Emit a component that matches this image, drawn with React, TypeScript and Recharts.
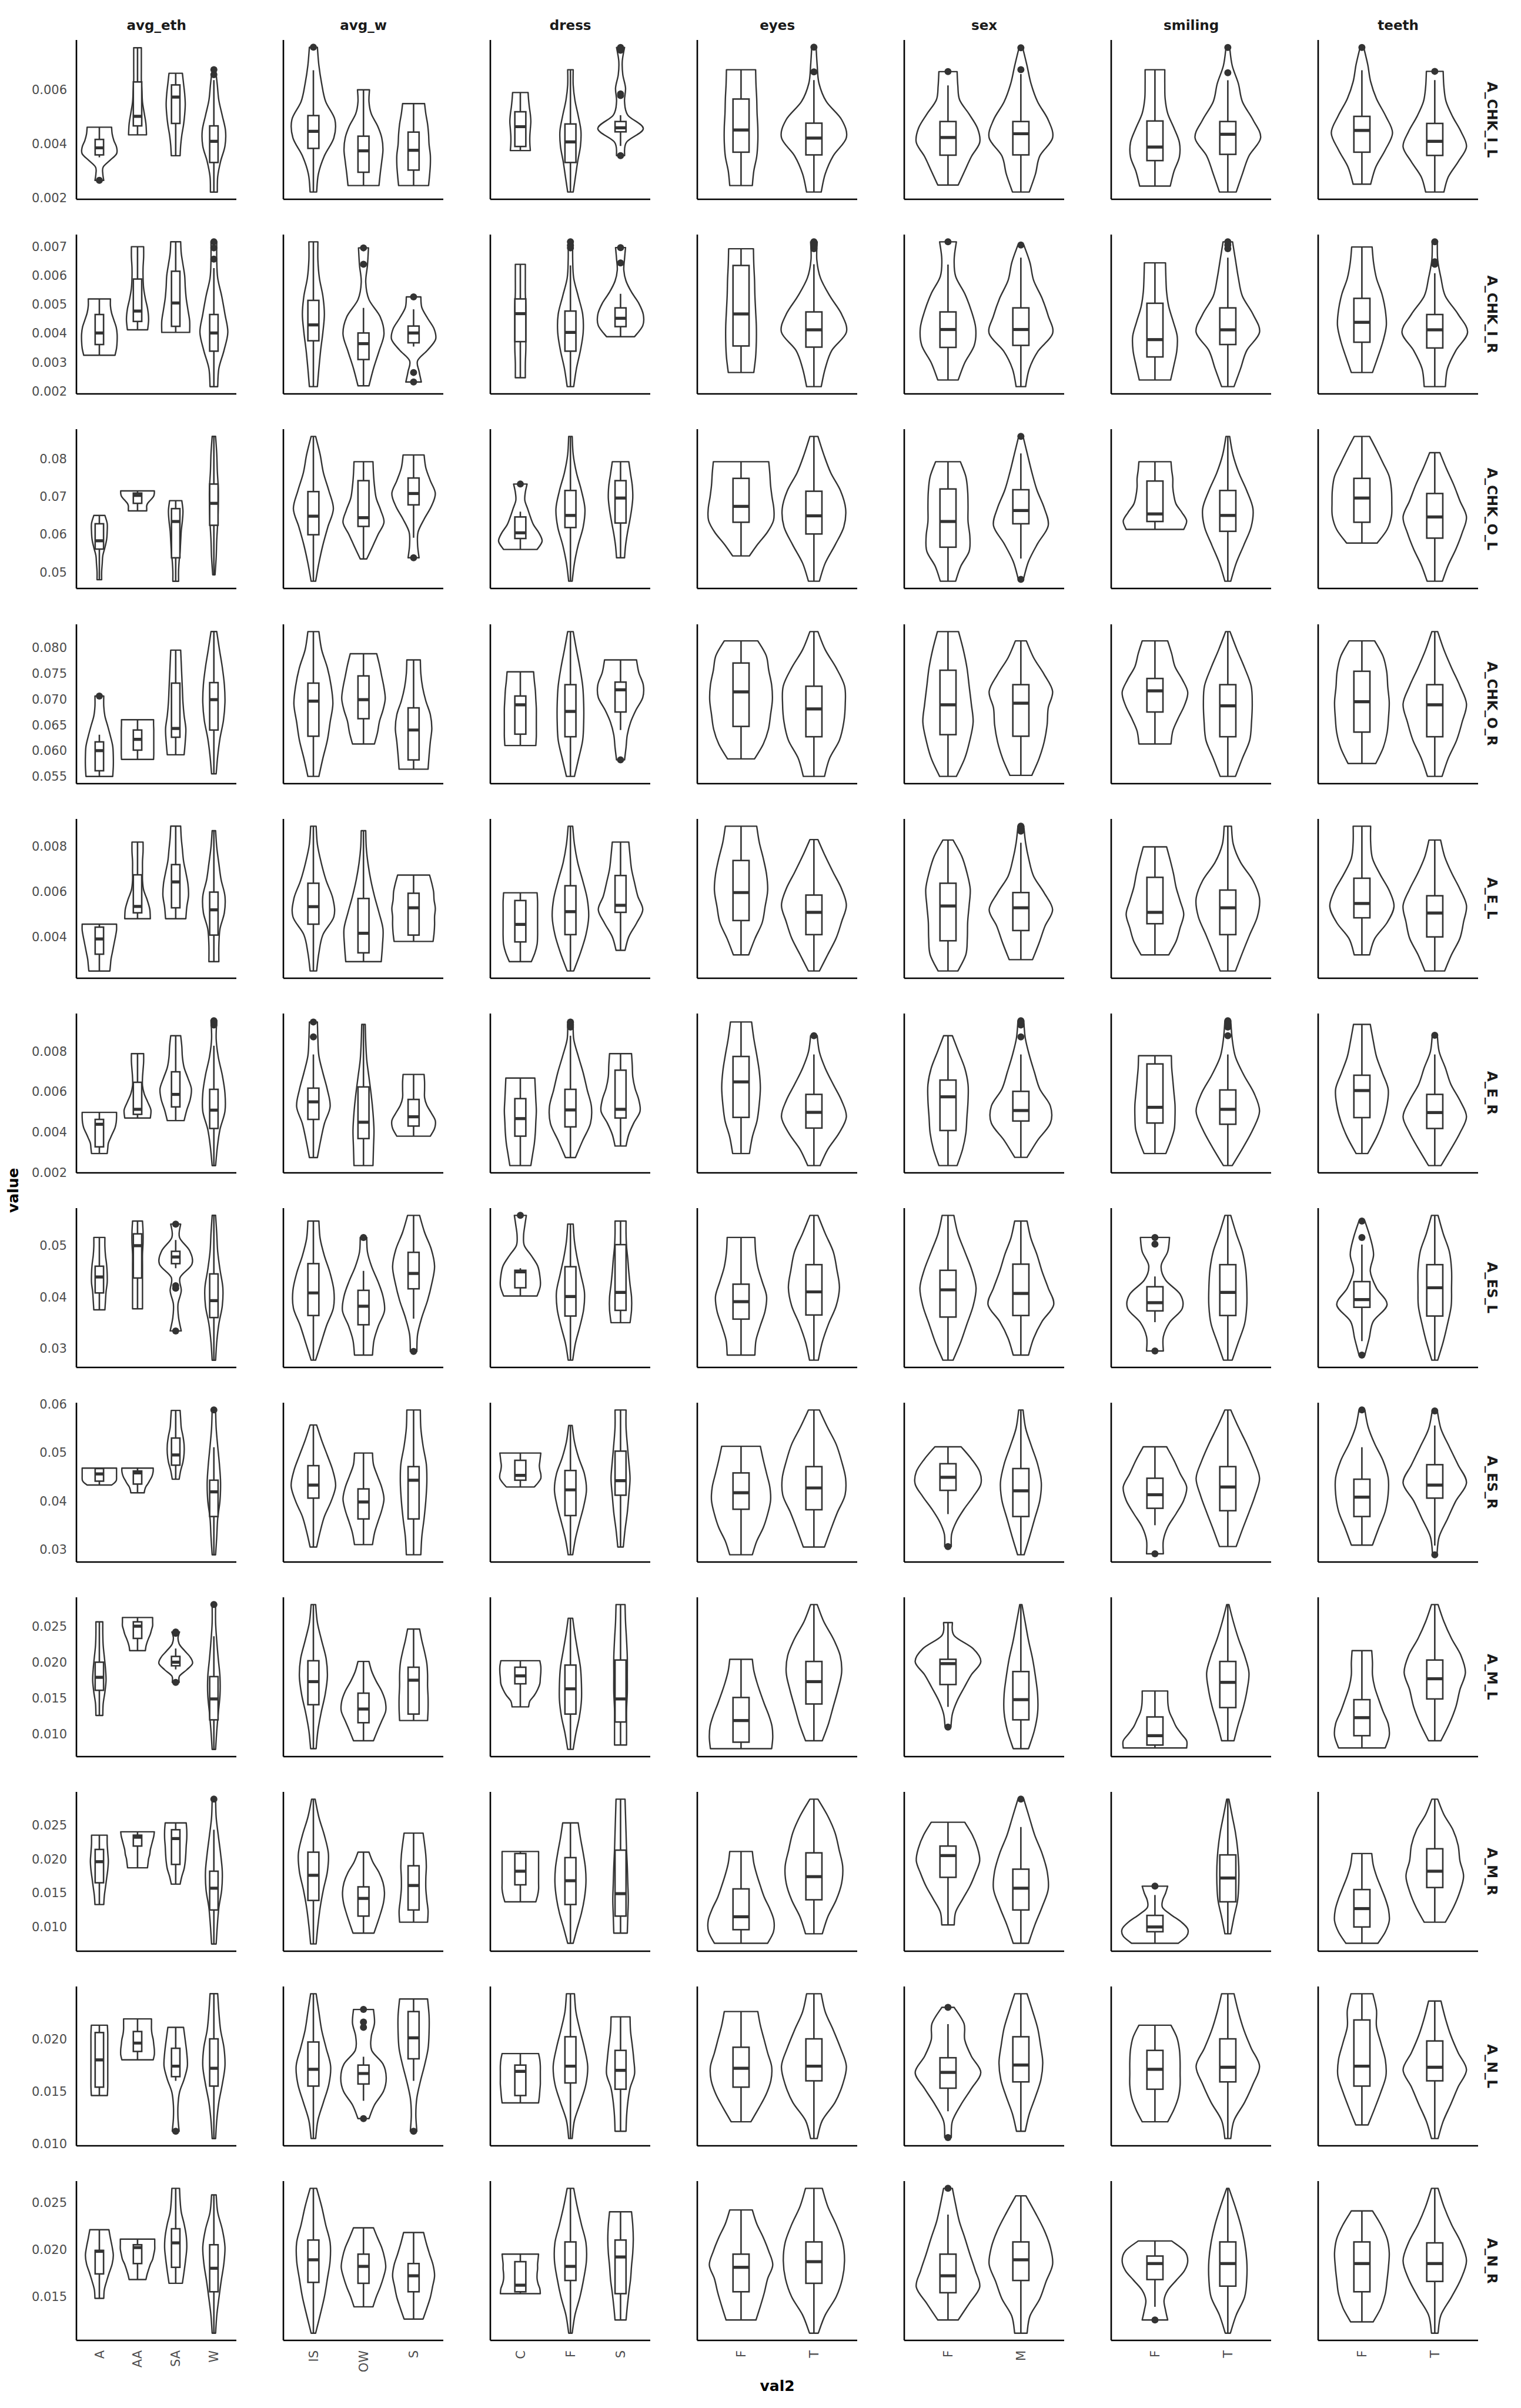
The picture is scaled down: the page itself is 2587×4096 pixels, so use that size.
import React from "react";
import { ComposedChart, Bar, XAxis, YAxis } from "recharts";

// Facet columns, the x levels inside each facet, and the measured traits (rows)
const FACETS = ["avg_eth", "avg_w", "dress", "eyes", "sex", "smiling", "teeth"];
const LEVELS = [["A", "AA", "SA", "W"], ["IS", "OW", "S"], ["C", "F", "S"], ["F", "T"], ["F", "M"], ["F", "T"], ["F", "T"]];
const MEASURES = ["A_CHK_I_L", "A_CHK_I_R", "A_CHK_O_L", "A_CHK_O_R", "A_E_L", "A_E_R", "A_ES_L", "A_ES_R", "A_M_L", "A_M_R", "A_N_L", "A_N_R"];

// y ticks per row (values in thousandths) and decimals of their labels
const Y_TICKS = [[2, 4, 6], [2, 3, 4, 5, 6, 7], [50, 60, 70, 80], [55, 60, 65, 70, 75, 80], [4, 6, 8], [2, 4, 6, 8], [30, 40, 50], [30, 40, 50, 60], [10, 15, 20, 25], [10, 15, 20, 25], [10, 15, 20], [15, 20, 25]];
const Y_DECIMALS = [3, 3, 2, 3, 3, 3, 2, 2, 3, 3, 3, 3];

// one entry per violin, in facet order, values in thousandths:
// [lower whisker, Q1, median, Q3, upper whisker, outliers, violin width (% of category step) at 9 even levels min..max]
const A_CHK_I_L = [
  [3.5, 3.59, 3.85, 4.16, 4.61, [2.65], [23, 18, 20, 55, 90, 90, 76, 67, 64]],
  [4.33, 4.66, 5.01, 6.28, 7.54, [], [47, 44, 35, 26, 23, 20, 20, 20, 20]],
  [3.56, 4.75, 5.72, 6.17, 6.6, [], [23, 26, 32, 41, 47, 50, 47, 41, 35]],
  [2.22, 3.31, 4.09, 4.66, 6.35, [6.55, 6.73], [18, 20, 35, 58, 61, 44, 26, 18, 9]],
  [2.22, 3.83, 4.46, 5.04, 6.71, [7.56], [13, 20, 44, 82, 86, 49, 33, 22, 16]],
  [2.46, 2.95, 3.74, 4.28, 5.99, [], [62, 67, 73, 78, 73, 56, 31, 22, 24]],
  [2.46, 3.03, 3.76, 4.43, 5.48, [], [60, 64, 67, 67, 62, 60, 56, 49, 44]],
  [3.75, 3.9, 4.63, 5.18, 5.89, [], [40, 38, 38, 40, 42, 40, 36, 33, 31]],
  [2.22, 3.31, 4.07, 4.73, 6.73, [], [11, 20, 29, 40, 42, 31, 18, 11, 11]],
  [3.92, 4.44, 4.59, 4.82, 5.05, [3.56, 5.78, 5.84, 7.45, 7.55], [16, 24, 91, 29, 16, 20, 9, 7, 16]],
  [2.46, 3.69, 4.51, 5.65, 6.73, [], [31, 35, 43, 46, 46, 44, 43, 41, 40]],
  [2.22, 3.59, 4.21, 4.76, 6.35, [6.65, 7.56], [20, 31, 53, 89, 76, 34, 14, 9, 6]],
  [2.48, 3.58, 4.23, 4.82, 6.15, [6.66], [28, 46, 64, 87, 81, 58, 32, 27, 25]],
  [2.22, 3.59, 4.37, 4.82, 6.57, [6.73, 7.54], [23, 40, 52, 87, 75, 46, 28, 17, 5]],
  [2.44, 3.38, 3.88, 4.84, 6.73, [], [42, 52, 67, 67, 52, 35, 28, 27, 27]],
  [2.22, 3.61, 4.35, 4.82, 6.34, [6.62, 7.55], [23, 40, 58, 90, 69, 40, 29, 12, 5]],
  [2.51, 3.69, 4.49, 5.01, 6.71, [7.55], [24, 38, 64, 84, 65, 40, 24, 16, 5]],
  [2.22, 3.57, 4.09, 4.75, 6.35, [6.67], [25, 37, 64, 87, 72, 49, 31, 25, 23]],
];
const A_CHK_I_R = [
  [3.24, 3.61, 4.01, 4.65, 5.19, [], [82, 90, 93, 93, 88, 76, 64, 58, 58]],
  [4.12, 4.41, 4.77, 5.88, 7.0, [], [53, 58, 53, 41, 32, 29, 29, 32, 32]],
  [4.03, 4.24, 5.05, 6.15, 7.17, [], [73, 73, 64, 55, 50, 47, 38, 29, 26]],
  [2.15, 3.38, 4.01, 4.65, 6.26, [6.57, 6.96, 7.17], [20, 26, 53, 73, 58, 41, 20, 15, 15]],
  [2.15, 3.74, 4.29, 5.14, 7.17, [], [16, 22, 29, 38, 44, 38, 24, 18, 18]],
  [2.18, 3.09, 3.64, 4.01, 4.88, [6.39, 6.96], [22, 40, 62, 82, 67, 22, 9, 16, 20]],
  [3.54, 3.67, 4.01, 4.25, 4.83, [2.31, 2.64, 5.26], [31, 22, 16, 56, 88, 82, 56, 33, 29]],
  [2.46, 3.71, 4.68, 5.19, 6.39, [], [20, 20, 22, 22, 22, 22, 20, 20, 20]],
  [2.15, 3.38, 4.03, 4.77, 6.35, [6.96, 7.05, 7.17], [13, 24, 40, 51, 49, 31, 13, 9, 9]],
  [3.88, 4.23, 4.52, 4.88, 5.37, [6.44, 6.97], [56, 89, 91, 73, 44, 22, 13, 16, 20]],
  [2.64, 3.56, 4.67, 6.35, 6.93, [], [35, 40, 42, 42, 40, 38, 37, 35, 34]],
  [2.15, 3.52, 4.12, 4.74, 6.39, [6.93, 7.06, 7.17], [20, 31, 49, 89, 76, 44, 18, 8, 9]],
  [2.38, 3.51, 4.13, 4.74, 6.38, [7.17], [28, 46, 72, 76, 64, 46, 21, 17, 23]],
  [2.15, 3.58, 4.13, 4.88, 6.62, [7.06], [13, 23, 47, 87, 75, 58, 35, 25, 8]],
  [2.38, 3.18, 3.78, 5.04, 6.44, [], [43, 52, 60, 61, 50, 38, 32, 30, 29]],
  [2.15, 3.61, 4.12, 4.88, 6.62, [6.93, 7.06, 7.17], [17, 35, 52, 87, 69, 40, 29, 21, 13]],
  [2.64, 3.69, 4.38, 5.21, 6.99, [], [29, 44, 58, 67, 64, 55, 40, 32, 28]],
  [2.15, 3.49, 4.12, 4.65, 6.08, [6.39, 6.48, 7.17], [29, 35, 58, 90, 64, 29, 17, 8, 7]],
];
const A_CHK_O_L = [
  [48.0, 56.1, 58.3, 62.8, 65.0, [], [12, 12, 15, 18, 29, 38, 41, 41, 29]],
  [66.2, 68.2, 70.3, 70.9, 71.5, [], [48, 48, 48, 53, 64, 76, 85, 88, 88]],
  [47.6, 53.8, 63.4, 66.8, 68.9, [], [15, 15, 18, 23, 26, 29, 35, 38, 32]],
  [49.3, 62.4, 68.2, 73.3, 85.9, [], [6, 12, 15, 20, 23, 23, 18, 15, 9]],
  [47.6, 59.9, 64.8, 71.3, 85.9, [], [9, 22, 38, 58, 80, 62, 40, 27, 9]],
  [53.5, 62.1, 64.4, 74.2, 79.2, [], [13, 36, 58, 82, 69, 51, 44, 40, 38]],
  [59.1, 67.8, 70.8, 74.9, 81.0, [53.8], [22, 16, 18, 42, 71, 87, 67, 49, 42]],
  [56.0, 58.9, 60.4, 64.6, 66.0, [73.3], [67, 87, 75, 53, 40, 29, 18, 20, 27]],
  [47.6, 61.8, 65.0, 71.6, 85.9, [], [7, 16, 31, 51, 58, 44, 24, 11, 7]],
  [53.8, 63.0, 69.6, 74.2, 79.2, [], [16, 20, 27, 36, 44, 49, 47, 40, 33]],
  [54.3, 63.2, 67.4, 74.8, 79.2, [], [23, 46, 72, 89, 90, 85, 81, 79, 76]],
  [47.6, 60.1, 64.9, 71.4, 85.9, [], [15, 31, 58, 82, 87, 73, 46, 27, 11]],
  [47.6, 56.6, 63.4, 72.0, 79.2, [], [21, 35, 58, 60, 55, 55, 54, 49, 34]],
  [53.6, 62.8, 66.3, 71.8, 81.4, [48.1, 85.9], [7, 21, 46, 75, 64, 44, 30, 18, 6]],
  [61.3, 63.4, 65.4, 74.1, 79.2, [], [79, 87, 74, 58, 52, 49, 49, 46, 44]],
  [47.6, 60.8, 65.0, 71.6, 85.9, [], [8, 23, 44, 64, 69, 52, 30, 14, 5]],
  [57.7, 63.2, 69.6, 74.8, 85.9, [], [42, 69, 81, 82, 81, 75, 58, 40, 21]],
  [47.6, 59.0, 64.6, 70.8, 81.6, [], [21, 37, 58, 75, 87, 69, 52, 32, 14]],
];
const A_CHK_O_R = [
  [55.0, 56.1, 60.0, 61.7, 63.1, [70.6], [70, 73, 73, 70, 58, 44, 29, 23, 23]],
  [58.3, 60.1, 62.2, 64.0, 66.0, [], [84, 85, 85, 85, 85, 85, 85, 84, 84]],
  [59.2, 62.6, 64.3, 73.1, 79.5, [], [44, 50, 53, 44, 38, 35, 32, 29, 26]],
  [55.5, 64.0, 69.9, 73.2, 83.1, [], [12, 20, 32, 50, 58, 55, 44, 29, 15]],
  [55.0, 62.8, 69.6, 73.1, 83.1, [], [22, 38, 56, 67, 78, 71, 56, 33, 22]],
  [61.3, 66.2, 69.9, 74.5, 78.8, [], [44, 56, 64, 78, 87, 82, 73, 64, 53]],
  [56.4, 58.2, 64.0, 68.3, 77.6, [], [58, 62, 67, 73, 67, 49, 36, 29, 27]],
  [61.0, 63.2, 68.9, 70.6, 75.3, [], [62, 64, 64, 64, 64, 62, 60, 56, 53]],
  [55.0, 62.7, 67.6, 72.8, 83.1, [], [16, 33, 49, 53, 53, 49, 38, 24, 11]],
  [64.0, 67.5, 71.8, 73.3, 77.6, [58.2], [16, 22, 27, 40, 62, 89, 91, 73, 64]],
  [58.4, 64.7, 71.4, 77.0, 81.3, [], [37, 61, 75, 81, 86, 84, 76, 69, 46]],
  [55.0, 62.7, 68.1, 72.5, 83.1, [], [29, 43, 70, 82, 86, 84, 61, 31, 11]],
  [55.0, 63.1, 68.9, 75.6, 83.1, [], [23, 46, 60, 69, 64, 58, 52, 42, 29]],
  [55.2, 62.8, 69.2, 72.8, 81.3, [], [30, 50, 64, 72, 75, 87, 64, 35, 15]],
  [61.3, 67.5, 71.6, 74.0, 81.3, [], [44, 49, 64, 81, 90, 75, 55, 46, 35]],
  [55.0, 62.7, 68.7, 72.8, 83.1, [], [21, 40, 60, 65, 67, 64, 46, 25, 6]],
  [57.5, 63.6, 69.5, 75.4, 81.3, [], [38, 58, 69, 73, 75, 71, 68, 58, 35]],
  [55.0, 62.7, 68.9, 72.8, 83.1, [], [20, 37, 60, 75, 87, 69, 46, 25, 8]],
];
const A_E_L = [
  [2.5, 3.24, 3.91, 4.43, 4.56, [], [55, 58, 61, 67, 73, 79, 85, 90, 90]],
  [4.8, 5.06, 5.34, 6.73, 8.17, [], [67, 64, 50, 32, 26, 26, 26, 29, 29]],
  [4.8, 5.28, 6.42, 7.18, 8.87, [], [53, 58, 67, 64, 53, 41, 35, 29, 26]],
  [2.91, 4.08, 5.19, 5.97, 8.67, [], [26, 26, 32, 55, 58, 38, 26, 15, 9]],
  [2.5, 4.56, 5.33, 6.36, 8.87, [], [13, 22, 38, 82, 78, 51, 31, 16, 11]],
  [2.91, 3.3, 4.16, 5.69, 8.67, [], [71, 76, 78, 62, 44, 29, 18, 11, 9]],
  [3.8, 4.08, 5.28, 5.92, 6.72, [], [78, 82, 84, 84, 87, 82, 80, 73, 64]],
  [2.91, 3.78, 4.55, 5.6, 5.94, [], [44, 58, 67, 69, 69, 69, 69, 69, 67]],
  [2.5, 4.1, 5.11, 6.25, 8.87, [], [13, 40, 62, 73, 67, 49, 29, 16, 9]],
  [3.41, 5.08, 5.39, 6.7, 8.17, [], [18, 33, 64, 89, 69, 56, 44, 38, 33]],
  [3.21, 4.72, 5.95, 7.36, 8.87, [], [21, 38, 58, 66, 73, 70, 61, 50, 43]],
  [2.5, 4.1, 5.08, 5.84, 8.28, [], [15, 38, 61, 76, 89, 76, 53, 31, 11]],
  [2.5, 3.83, 5.36, 6.36, 8.26, [], [27, 49, 53, 54, 58, 61, 52, 38, 14]],
  [3.0, 4.28, 5.28, 5.95, 8.14, [8.65, 8.75, 8.87], [32, 50, 66, 87, 64, 35, 22, 13, 8]],
  [3.21, 4.58, 5.08, 6.62, 7.96, [], [38, 58, 69, 79, 69, 58, 51, 42, 32]],
  [2.5, 4.1, 5.28, 6.06, 8.87, [], [21, 40, 60, 81, 87, 69, 35, 15, 10]],
  [3.21, 4.84, 5.47, 6.58, 8.87, [], [21, 35, 69, 88, 75, 50, 29, 24, 24]],
  [2.5, 4.0, 5.05, 5.81, 8.26, [], [27, 46, 69, 79, 87, 69, 46, 27, 16]],
];
const A_E_R = [
  [2.93, 3.26, 4.38, 4.62, 4.97, [], [41, 44, 47, 58, 70, 82, 88, 90, 90]],
  [4.69, 4.87, 5.12, 6.46, 7.88, [], [67, 70, 53, 35, 26, 26, 29, 32, 32]],
  [4.56, 5.24, 5.86, 6.98, 8.77, [], [44, 58, 76, 82, 64, 44, 35, 32, 26]],
  [2.33, 4.17, 5.08, 6.11, 8.27, [9.3, 9.4, 9.51], [9, 18, 32, 58, 58, 44, 23, 12, 15]],
  [2.73, 4.62, 5.49, 6.17, 7.84, [8.71, 9.45], [16, 29, 44, 67, 56, 38, 22, 18, 16]],
  [2.33, 3.67, 4.48, 6.23, 9.33, [], [38, 40, 42, 38, 31, 22, 13, 9, 7]],
  [3.79, 4.29, 4.75, 5.61, 6.85, [], [67, 84, 87, 71, 53, 44, 44, 44, 42]],
  [2.33, 3.79, 4.66, 5.65, 6.67, [], [42, 49, 56, 60, 62, 64, 62, 60, 58]],
  [2.73, 4.25, 5.09, 6.11, 8.77, [9.2, 9.3, 9.45], [20, 49, 80, 84, 67, 51, 31, 13, 11]],
  [3.3, 4.69, 5.12, 7.06, 7.88, [], [22, 33, 53, 78, 73, 58, 49, 47, 44]],
  [2.93, 4.72, 6.48, 7.74, 9.45, [], [23, 31, 44, 50, 53, 50, 43, 35, 29]],
  [2.33, 4.19, 4.97, 5.86, 7.84, [8.77], [17, 38, 69, 89, 76, 53, 31, 15, 9]],
  [2.33, 4.07, 5.74, 6.57, 8.77, [], [25, 40, 49, 52, 55, 55, 46, 29, 12]],
  [2.74, 4.54, 5.06, 6.01, 7.84, [8.71, 9.3, 9.51], [17, 46, 81, 81, 52, 37, 23, 12, 8]],
  [2.93, 4.44, 5.22, 7.37, 7.78, [], [30, 43, 53, 55, 55, 52, 49, 46, 45]],
  [2.33, 4.38, 5.12, 6.08, 7.84, [8.77, 9.2, 9.3, 9.51], [12, 42, 69, 87, 72, 44, 21, 12, 8]],
  [2.93, 4.71, 6.05, 6.81, 9.33, [], [16, 40, 58, 69, 72, 56, 40, 31, 23]],
  [2.33, 4.17, 4.96, 5.86, 7.84, [8.79], [17, 44, 69, 87, 69, 44, 29, 12, 7]],
];
const A_ES_L = [
  [37.5, 40.8, 43.9, 46.0, 51.6, [], [29, 32, 35, 41, 41, 38, 32, 29, 29]],
  [37.7, 43.7, 50.0, 52.3, 54.8, [], [26, 26, 26, 26, 26, 26, 29, 29, 26]],
  [45.6, 46.5, 47.8, 48.9, 51.1, [33.4, 41.7, 42.2, 54.2], [29, 15, 12, 29, 23, 85, 73, 20, 26]],
  [27.7, 36.0, 39.3, 44.5, 55.9, [], [9, 15, 26, 44, 47, 32, 20, 15, 9]],
  [27.7, 36.4, 40.8, 46.5, 54.8, [], [9, 31, 53, 80, 82, 67, 44, 27, 22]],
  [28.7, 34.6, 38.2, 41.3, 45.1, [51.6], [36, 42, 60, 84, 78, 58, 33, 16, 13]],
  [35.8, 41.6, 44.6, 48.7, 55.9, [29.4], [13, 16, 33, 56, 73, 84, 71, 44, 24]],
  [40.2, 41.8, 44.9, 45.2, 45.6, [55.9], [67, 80, 78, 69, 44, 16, 13, 18, 24]],
  [27.7, 36.3, 40.1, 45.9, 54.2, [], [9, 20, 38, 53, 56, 42, 27, 16, 11]],
  [35.0, 37.4, 40.9, 50.2, 54.8, [], [38, 44, 44, 38, 33, 29, 24, 22, 22]],
  [28.7, 35.7, 39.1, 42.5, 51.6, [], [38, 41, 53, 66, 70, 58, 46, 40, 38]],
  [27.7, 36.5, 41.0, 46.3, 55.9, [], [12, 23, 40, 61, 70, 63, 53, 31, 11]],
  [27.7, 36.1, 41.4, 45.2, 55.9, [], [14, 35, 52, 69, 77, 65, 46, 27, 16]],
  [28.7, 36.4, 40.7, 46.4, 54.8, [], [21, 35, 58, 90, 75, 58, 44, 27, 17]],
  [35.1, 37.3, 38.9, 42.0, 44.0, [29.5, 50.3, 51.6], [23, 23, 40, 75, 69, 29, 17, 35, 40]],
  [27.7, 36.4, 40.9, 46.3, 55.9, [], [12, 29, 46, 52, 52, 49, 40, 23, 8]],
  [31.4, 38.0, 39.5, 43.0, 50.2, [28.7, 51.6, 54.8], [8, 20, 31, 69, 40, 23, 32, 23, 8]],
  [27.7, 36.3, 41.8, 46.3, 55.9, [], [8, 23, 35, 45, 46, 46, 40, 23, 9]],
];
const A_ES_R = [
  [43.3, 44.1, 45.6, 46.7, 46.8, [], [64, 79, 88, 90, 90, 90, 90, 90, 90]],
  [41.7, 43.5, 45.8, 46.2, 46.8, [], [35, 38, 44, 55, 64, 73, 79, 82, 82]],
  [44.5, 47.4, 49.5, 53.0, 58.7, [], [18, 26, 38, 44, 44, 38, 29, 26, 23]],
  [28.9, 36.8, 41.9, 44.3, 51.1, [58.8], [9, 15, 20, 32, 35, 29, 20, 12, 9]],
  [30.5, 40.6, 43.3, 47.3, 55.7, [], [13, 27, 44, 71, 89, 78, 56, 33, 13]],
  [31.0, 36.3, 39.8, 42.5, 49.9, [], [36, 44, 58, 73, 82, 73, 56, 40, 36]],
  [28.9, 36.3, 44.3, 47.1, 58.8, [], [29, 33, 42, 49, 53, 51, 38, 29, 27]],
  [42.9, 44.3, 45.3, 48.4, 49.9, [], [56, 71, 82, 82, 78, 76, 78, 80, 82]],
  [28.9, 37.0, 42.3, 46.3, 55.6, [], [9, 20, 36, 53, 64, 56, 33, 16, 7]],
  [30.5, 41.2, 44.2, 50.3, 58.8, [], [11, 18, 27, 33, 38, 33, 27, 22, 22]],
  [28.9, 38.3, 41.7, 45.8, 51.3, [], [31, 43, 61, 73, 81, 79, 70, 61, 53]],
  [30.5, 38.2, 42.7, 47.1, 58.8, [], [29, 46, 64, 85, 87, 76, 61, 37, 15]],
  [37.3, 42.2, 44.9, 47.7, 51.2, [30.6], [9, 10, 23, 44, 69, 90, 87, 65, 36]],
  [28.9, 36.8, 42.1, 46.7, 58.8, [], [9, 24, 38, 52, 56, 46, 29, 13, 6]],
  [35.0, 38.5, 41.3, 44.7, 51.2, [29.1], [23, 23, 35, 58, 79, 87, 69, 52, 32]],
  [30.6, 38.0, 42.9, 47.1, 58.8, [], [23, 40, 58, 75, 87, 72, 52, 29, 8]],
  [30.9, 36.8, 40.8, 44.5, 51.1, [58.8], [29, 46, 64, 72, 72, 58, 35, 17, 8]],
  [30.8, 40.6, 43.3, 47.5, 55.6, [28.9, 58.6], [6, 12, 35, 58, 87, 64, 40, 17, 7]],
];
const A_M_L = [
  [12.6, 16.1, 17.9, 20.0, 25.6, [], [18, 20, 29, 35, 32, 26, 20, 18, 18]],
  [21.6, 23.3, 25.0, 25.6, 26.2, [], [41, 44, 50, 58, 67, 73, 79, 79, 79]],
  [19.0, 19.5, 20.0, 20.8, 21.9, [17.2, 24.0, 24.2], [18, 20, 58, 88, 76, 47, 20, 12, 20]],
  [7.9, 12.0, 14.9, 18.0, 23.6, [28.0], [9, 15, 23, 32, 32, 23, 15, 9, 9]],
  [8.0, 14.1, 17.3, 20.2, 28.0, [], [11, 18, 31, 47, 56, 51, 33, 16, 9]],
  [9.1, 11.6, 13.5, 15.7, 20.1, [], [40, 56, 73, 89, 87, 73, 51, 33, 22]],
  [11.9, 12.8, 17.5, 19.3, 24.6, [], [56, 58, 58, 56, 56, 53, 44, 33, 24]],
  [13.8, 17.0, 18.1, 19.3, 20.2, [], [33, 38, 56, 69, 78, 80, 82, 82, 78]],
  [7.9, 12.8, 16.3, 19.6, 26.1, [], [11, 22, 36, 44, 44, 40, 29, 18, 9]],
  [8.5, 11.7, 14.9, 20.3, 28.0, [], [24, 24, 24, 27, 27, 27, 24, 20, 18]],
  [8.0, 8.9, 11.9, 15.1, 20.4, [], [84, 87, 85, 76, 64, 53, 43, 35, 31]],
  [9.1, 14.2, 17.3, 20.1, 28.0, [], [23, 40, 53, 66, 76, 72, 53, 27, 9]],
  [13.8, 16.9, 19.8, 20.4, 25.5, [11.0], [8, 12, 25, 44, 64, 90, 69, 17, 12]],
  [8.0, 12.0, 14.8, 18.7, 28.0, [], [21, 37, 46, 46, 40, 32, 21, 12, 3]],
  [8.1, 8.5, 9.8, 12.4, 16.0, [], [87, 87, 72, 58, 49, 40, 36, 35, 35]],
  [9.1, 13.7, 17.2, 20.1, 28.0, [], [17, 29, 43, 53, 58, 46, 29, 15, 3]],
  [8.1, 9.8, 12.3, 14.8, 21.6, [], [64, 75, 72, 58, 46, 35, 29, 29, 27]],
  [9.1, 14.9, 17.7, 20.3, 28.0, [], [17, 40, 58, 69, 84, 72, 46, 25, 9]],
];
const A_M_R = [
  [13.3, 16.5, 19.6, 21.4, 23.5, [], [23, 26, 32, 38, 44, 47, 44, 41, 41]],
  [18.7, 21.9, 23.2, 23.5, 24.0, [], [52, 55, 58, 64, 67, 73, 79, 85, 88]],
  [16.3, 19.2, 23.0, 24.3, 25.3, [], [23, 32, 44, 50, 53, 55, 58, 58, 55]],
  [7.5, 12.5, 15.7, 18.2, 24.3, [28.8], [12, 18, 26, 41, 44, 35, 23, 12, 9]],
  [7.5, 13.9, 17.6, 21.0, 28.8, [], [11, 18, 27, 40, 56, 60, 44, 22, 7]],
  [9.1, 11.6, 14.2, 15.9, 21.0, [], [42, 56, 69, 80, 84, 78, 62, 38, 22]],
  [10.7, 12.5, 16.1, 19.0, 23.8, [], [56, 58, 53, 49, 49, 51, 49, 44, 38]],
  [13.7, 16.2, 18.2, 20.8, 21.1, [], [62, 69, 73, 73, 73, 73, 73, 73, 73]],
  [7.6, 13.3, 16.8, 20.2, 25.3, [], [11, 27, 44, 56, 62, 60, 51, 40, 31]],
  [9.1, 11.6, 14.9, 21.3, 28.8, [], [27, 29, 31, 29, 27, 24, 22, 20, 18]],
  [7.6, 9.6, 11.5, 15.6, 21.1, [], [73, 89, 90, 79, 64, 53, 43, 35, 31]],
  [9.0, 14.0, 17.4, 20.9, 28.8, [], [23, 38, 61, 76, 79, 69, 58, 38, 11]],
  [10.3, 17.3, 20.5, 21.9, 25.4, [], [17, 21, 40, 60, 75, 87, 81, 67, 46]],
  [7.6, 12.5, 15.7, 18.5, 24.7, [28.8], [21, 38, 58, 75, 72, 58, 38, 23, 8]],
  [7.6, 9.3, 10.0, 11.7, 14.7, [16.0], [64, 87, 90, 72, 44, 21, 21, 29, 35]],
  [9.0, 13.7, 17.2, 20.6, 28.8, [], [8, 17, 27, 30, 30, 27, 21, 12, 3]],
  [7.6, 10.0, 12.7, 15.5, 20.8, [], [44, 64, 75, 73, 64, 52, 40, 31, 27]],
  [10.7, 15.8, 18.2, 21.5, 28.8, [], [29, 52, 69, 79, 69, 64, 50, 25, 8]],
];
const A_N_L = [
  [14.6, 15.4, 18.0, 20.6, 21.3, [], [42, 44, 44, 44, 44, 44, 44, 44, 42]],
  [18.0, 18.8, 19.6, 20.7, 21.9, [], [82, 88, 88, 85, 82, 76, 73, 73, 73]],
  [16.0, 16.4, 17.4, 19.1, 21.1, [11.2], [18, 12, 12, 20, 44, 61, 58, 50, 41]],
  [10.5, 15.5, 17.2, 20.0, 24.3, [], [9, 15, 26, 44, 58, 53, 35, 26, 20]],
  [10.5, 15.5, 17.1, 19.7, 24.3, [], [9, 18, 40, 62, 69, 51, 33, 22, 11]],
  [14.1, 15.7, 16.7, 17.5, 18.3, [12.4, 21.1, 21.6, 22.8], [22, 44, 80, 91, 78, 33, 31, 44, 40]],
  [16.0, 18.1, 20.1, 22.6, 23.8, [11.2], [13, 9, 13, 27, 44, 58, 62, 62, 56]],
  [13.9, 14.6, 16.9, 17.5, 18.6, [], [73, 76, 78, 80, 80, 80, 80, 78, 73]],
  [10.5, 15.8, 17.4, 20.2, 24.3, [], [7, 16, 40, 62, 69, 56, 38, 22, 16]],
  [11.2, 15.2, 17.0, 18.9, 22.1, [], [22, 24, 29, 38, 56, 53, 47, 40, 38]],
  [12.1, 15.4, 17.2, 19.2, 22.6, [], [27, 49, 69, 82, 84, 73, 63, 53, 46]],
  [10.5, 16.0, 17.4, 20.0, 24.3, [], [9, 23, 58, 79, 89, 73, 53, 31, 20]],
  [13.1, 15.3, 16.8, 18.2, 21.4, [10.6, 23.0], [9, 12, 35, 64, 90, 64, 46, 44, 17]],
  [11.2, 15.9, 17.5, 20.2, 24.3, [], [12, 23, 40, 55, 60, 54, 46, 32, 17]],
  [12.1, 15.2, 17.1, 18.9, 21.3, [], [35, 52, 64, 69, 69, 69, 67, 60, 44]],
  [10.5, 15.9, 17.3, 20.0, 24.3, [], [8, 17, 46, 69, 87, 64, 44, 29, 17]],
  [11.8, 15.5, 17.4, 21.8, 24.3, [], [17, 35, 52, 66, 64, 52, 40, 40, 30]],
  [10.5, 16.0, 17.3, 19.8, 23.6, [], [9, 23, 44, 64, 87, 64, 44, 29, 17]],
];
const A_N_R = [
  [14.8, 17.4, 19.8, 19.9, 22.1, [], [23, 26, 38, 52, 67, 73, 67, 58, 50]],
  [16.8, 18.5, 20.2, 20.5, 21.1, [], [44, 50, 58, 67, 79, 85, 90, 90, 90]],
  [16.4, 18.1, 20.7, 22.2, 26.5, [], [35, 44, 52, 58, 55, 44, 29, 23, 20]],
  [11.1, 15.5, 18.0, 20.5, 25.8, [], [9, 15, 26, 38, 52, 58, 44, 20, 12]],
  [11.1, 16.5, 18.9, 21.0, 26.5, [], [9, 27, 44, 56, 67, 67, 49, 33, 13]],
  [13.9, 16.4, 18.2, 19.5, 22.3, [], [38, 51, 67, 80, 89, 84, 73, 56, 40]],
  [12.6, 15.5, 17.2, 18.5, 21.8, [], [38, 53, 67, 76, 84, 78, 64, 51, 40]],
  [15.3, 15.5, 16.2, 18.7, 19.5, [], [80, 78, 71, 67, 67, 69, 69, 71, 73]],
  [11.1, 16.7, 18.2, 20.8, 26.5, [], [7, 18, 38, 53, 64, 62, 44, 27, 13]],
  [12.5, 15.3, 19.2, 21.0, 24.0, [], [22, 27, 33, 40, 44, 49, 51, 49, 44]],
  [12.5, 15.5, 18.1, 19.5, 24.2, [], [41, 53, 64, 73, 87, 76, 61, 43, 31]],
  [11.1, 16.4, 18.7, 20.8, 26.5, [], [12, 31, 61, 78, 84, 79, 61, 38, 23]],
  [12.5, 15.4, 17.2, 19.5, 23.7, [26.5], [28, 58, 87, 75, 60, 46, 31, 21, 12]],
  [11.1, 16.7, 18.9, 20.8, 25.7, [], [17, 25, 52, 69, 87, 81, 64, 40, 14]],
  [13.9, 16.8, 18.5, 19.3, 20.9, [12.5], [35, 29, 25, 35, 58, 81, 90, 81, 46]],
  [11.1, 16.1, 18.5, 20.8, 26.5, [], [7, 23, 46, 52, 52, 46, 35, 20, 3]],
  [12.3, 15.5, 18.5, 20.8, 24.1, [], [31, 52, 64, 69, 73, 75, 69, 52, 29]],
  [11.1, 16.6, 18.5, 20.7, 26.5, [], [9, 17, 46, 72, 87, 72, 46, 25, 9]],
];
const ROWS: any[][] = [A_CHK_I_L, A_CHK_I_R, A_CHK_O_L, A_CHK_O_R, A_E_L, A_E_R, A_ES_L, A_ES_R, A_M_L, A_M_R, A_N_L, A_N_R];

// layout (px)
const PAGE_W = 2587;
const PAGE_H = 4096;
const PANEL_X0 = 129.8;
const COL_STEP = 352.0;
const PANEL_W = 272.7;
const PANEL_Y0 = 68.2;
const ROW_STEP = 331.1;
const PANEL_H = 271;
const PAD_TOP = 24; // room above the plot so top tick labels are not clipped
const INK = "#333333";
const FONT = "DejaVu Sans";

const OFFSETS = LEVELS.map((_, i) => LEVELS.slice(0, i).reduce((s, l) => s + l.length, 0));

// each row shares one y scale: data range plus 5% on both sides
const DOMAINS = ROWS.map((row) => {
  let lo = Infinity, hi = -Infinity;
  row.forEach((v) => {
    lo = Math.min(lo, v[0], ...v[5]);
    hi = Math.max(hi, v[4], ...v[5]);
  });
  const pad = (hi - lo) * 0.05;
  return [lo - pad, hi + pad];
});

const pt = (p: number[]) => `${p[0].toFixed(2)},${p[1].toFixed(2)}`;

// smooth curve through the points (Catmull-Rom as cubic Beziers)
function curve(pts: number[][]) {
  let d = "";
  for (let i = 0; i < pts.length - 1; i++) {
    const p0 = pts[i - 1] || pts[i];
    const p1 = pts[i];
    const p2 = pts[i + 1];
    const p3 = pts[i + 2] || p2;
    const c1 = [p1[0] + (p2[0] - p0[0]) / 6, p1[1] + (p2[1] - p0[1]) / 6];
    const c2 = [p2[0] - (p3[0] - p1[0]) / 6, p2[1] - (p3[1] - p1[1]) / 6];
    d += ` C${pt(c1)} ${pt(c2)} ${pt(p2)}`;
  }
  return d;
}

function Violin(props: any) {
  const { x, y, width, height } = props;
  const entry = props.payload ?? props;
  const [wl, q1, med, q3, wh, outs, widths] = entry.violin;
  const [lo, hi] = entry.range;
  const top = Math.min(y, y + height);
  const bot = Math.max(y, y + height);
  const py = (v: number) => bot - ((v - lo) / (hi - lo)) * (bot - top);
  const cx = x + width / 2;
  const n = widths.length - 1;
  const right = widths.map((w: number, i: number) => [cx + (w / 200) * width, py(lo + (i / n) * (hi - lo))]);
  const left = widths.map((w: number, i: number) => [cx - (w / 200) * width, py(lo + (i / n) * (hi - lo))]).reverse();
  const d = `M${pt(left[left.length - 1])} L${pt(right[0])}` + curve(right) + ` L${pt(left[0])}` + curve(left) + " Z";
  const bw = width * 0.22;
  return (
    <g>
      <path d={d} fill="#fff" stroke={INK} strokeWidth={2.4} strokeLinejoin="round" />
      <line x1={cx} x2={cx} y1={py(q3)} y2={py(wh)} stroke={INK} strokeWidth={2.6} />
      <line x1={cx} x2={cx} y1={py(q1)} y2={py(wl)} stroke={INK} strokeWidth={2.6} />
      <rect x={cx - bw / 2} y={py(q3)} width={bw} height={py(q1) - py(q3)} fill="#fff" stroke={INK} strokeWidth={2.6} />
      <line x1={cx - bw / 2} x2={cx + bw / 2} y1={py(med)} y2={py(med)} stroke={INK} strokeWidth={5.2} />
      {outs.map((o: number, i: number) => (
        <circle key={i} cx={cx} cy={py(o)} r={6} fill={INK} />
      ))}
    </g>
  );
}

function Panel({ r, c }: { r: number; c: number }) {
  const cats = LEVELS[c];
  const data = cats.map((cat, k) => {
    const v = ROWS[r][OFFSETS[c] + k];
    return { cat, range: [Math.min(v[0], ...v[5]), Math.max(v[4], ...v[5])], violin: v };
  });
  const yw = c === 0 ? 110 : 10;
  const bottomRow = r === ROWS.length - 1;
  const xh = bottomRow ? 90 : 24;
  const step = PANEL_W / (cats.length + 0.2);
  const axisLine = { stroke: "#000", strokeWidth: 2.6 };
  const yTick = (p: any) => (
    <text x={yw - 16} y={p.y} dy="0.36em" textAnchor="end" fill="#4D4D4D" fontSize={21} fontFamily={FONT}>
      {(p.payload.value / 1000).toFixed(Y_DECIMALS[r])}
    </text>
  );
  const xTick = (p: any) => {
    const ty = PAD_TOP + PANEL_H + 17;
    return (
      <text x={p.x} y={ty} dy="0.36em" textAnchor="end" transform={`rotate(-90 ${p.x} ${ty})`} fill="#4D4D4D" fontSize={21} fontFamily={FONT}>
        {p.payload.value}
      </text>
    );
  };
  return (
    <div style={{ position: "absolute", left: PANEL_X0 + c * COL_STEP - yw, top: PANEL_Y0 + r * ROW_STEP - PAD_TOP }}>
      <ComposedChart width={yw + PANEL_W} height={PAD_TOP + PANEL_H + xh} data={data} margin={{ top: PAD_TOP, right: 0, bottom: 0, left: 0 }} barCategoryGap={0} barGap={0}>
        <XAxis dataKey="cat" type="category" interval={0} padding={{ left: step * 0.1, right: step * 0.1 }} height={xh} tickLine={false} axisLine={axisLine} tick={bottomRow ? xTick : false} />
        <YAxis type="number" domain={DOMAINS[r]} ticks={Y_TICKS[r]} allowDataOverflow width={yw} tickLine={false} axisLine={axisLine} tick={c === 0 ? yTick : false} />
        <Bar dataKey="range" shape={<Violin />} isAnimationActive={false} />
      </ComposedChart>
    </div>
  );
}

export default function App() {
  const gridBottom = PANEL_Y0 + (ROWS.length - 1) * ROW_STEP + PANEL_H;
  const midY = (PANEL_Y0 + gridBottom) / 2;
  return (
    <div style={{ position: "absolute", left: 0, top: 0, width: PAGE_W, height: PAGE_H, background: "#fff", overflow: "hidden" }}>
      <svg width={PAGE_W} height={PAGE_H} style={{ position: "absolute", left: 0, top: 0 }}>
        {FACETS.map((f, c) => (
          <text key={f} x={PANEL_X0 + c * COL_STEP + PANEL_W / 2} y={44} dy="0.3em" textAnchor="middle" fontSize={23} fontWeight="bold" fontFamily={FONT} fill="#1A1A1A">
            {f}
          </text>
        ))}
        {MEASURES.map((m, r) => {
          const cy = PANEL_Y0 + r * ROW_STEP + PANEL_H / 2;
          return (
            <text key={m} x={2538} y={cy} dy="0.36em" textAnchor="middle" transform={`rotate(90 2538 ${cy})`} fontSize={23} fontWeight="bold" fontFamily={FONT} fill="#1A1A1A">
              {m}
            </text>
          );
        })}
        <text x={22} y={midY} dy="0.36em" textAnchor="middle" transform={`rotate(-90 22 ${midY})`} fontSize={25} fontWeight="bold" fontFamily={FONT} fill="#000">
          value
        </text>
        <text x={PANEL_X0 + (6 * COL_STEP + PANEL_W) / 2} y={4058} dy="0.36em" textAnchor="middle" fontSize={25} fontWeight="bold" fontFamily={FONT} fill="#000">
          val2
        </text>
      </svg>
      {MEASURES.map((_, r) => FACETS.map((__, c) => <Panel key={`${r}-${c}`} r={r} c={c} />))}
    </div>
  );
}
